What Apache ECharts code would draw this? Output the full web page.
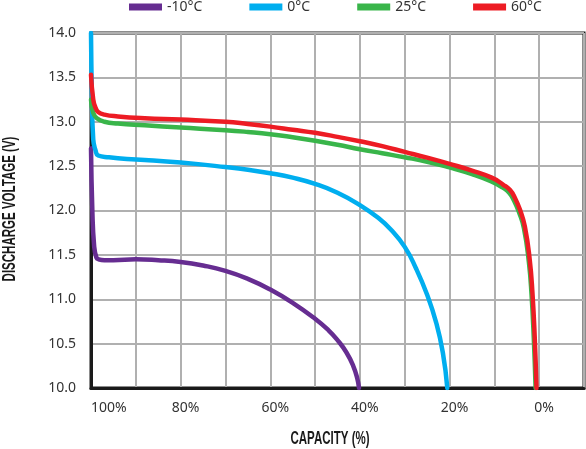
<!DOCTYPE html>
<html>
<head>
<meta charset="utf-8">
<script src="https://cdn.jsdelivr.net/npm/echarts@6/dist/echarts.min.js"></script>
<style>
html,body{margin:0;padding:0;background:#fff;}
#chart{width:586px;height:449px;}
</style>
</head>
<body>
<div id="chart"></div>
<script>
// Series names and axis titles
const seriesNames = ['-10°C', '0°C', '25°C', '60°C'];
const xTitle = 'CAPACITY (%)';
const yTitle = 'DISCHARGE VOLTAGE (V)';

// -10°C
const capM10 = [100, 99.7, 99.3, 98.8, 98.3, 97, 95, 90, 85, 80, 75, 70, 65, 60, 55, 50, 47, 45, 43, 41.5, 40.6, 40.2];
const voltM10 = [12.7, 12.0, 11.6, 11.47, 11.45, 11.44, 11.44, 11.45, 11.44, 11.42, 11.38, 11.32, 11.23, 11.11, 10.96, 10.78, 10.65, 10.54, 10.40, 10.25, 10.11, 10.0];

// 0°C
const cap0 = [100, 99.8, 99.5, 99.0, 98.4, 96, 92, 88, 80, 70, 65, 60, 55, 50, 45, 40, 36, 33, 30, 27.5, 25, 23, 21.5, 20.5];
const volt0 = [14.0, 13.3, 12.8, 12.68, 12.62, 12.60, 12.58, 12.57, 12.54, 12.49, 12.46, 12.42, 12.37, 12.30, 12.20, 12.06, 11.92, 11.78, 11.59, 11.35, 11.05, 10.74, 10.40, 10.0];

// 25°C
const cap25 = [100, 99.5, 98.7, 97, 94, 88, 80, 70, 65, 60, 55, 50, 45, 40, 35, 30, 25, 20, 15, 10.8, 8.2, 6.7, 5.6, 4.5, 3.4, 2.3, 1.7, 1.2, 0.8];
const volt25 = [13.25, 13.1, 13.04, 13.0, 12.98, 12.96, 12.935, 12.905, 12.885, 12.86, 12.825, 12.785, 12.74, 12.69, 12.645, 12.60, 12.55, 12.485, 12.41, 12.33, 12.26, 12.2, 12.11, 11.98, 11.8, 11.42, 11.05, 10.56, 10.0];

// 60°C
const cap60 = [100, 99.5, 99, 98.4, 97, 94, 88, 80, 70, 65, 60, 55, 50, 45, 40, 35, 30, 25, 20, 15, 10.6, 8, 6.5, 5.4, 4.3, 3.2, 2.1, 1.5, 1.0, 0.6];
const volt60 = [13.53, 13.25, 13.16, 13.11, 13.08, 13.06, 13.04, 13.025, 13.0, 12.975, 12.945, 12.91, 12.875, 12.83, 12.78, 12.725, 12.66, 12.595, 12.525, 12.45, 12.37, 12.29, 12.23, 12.14, 12.01, 11.82, 11.44, 11.07, 10.58, 10.0];

// Axis ticks
const xTickLabels = [0, 20, 40, 60, 80, 100];
const yMin = 10, yMax = 14, yStep = 0.5;
const xMin = -10, xMax = 100, xStep = 10;

const colors = ['#662d91', '#00aeef', '#39b54a', '#ed1c24'];

function pairs(xs, ys) { return xs.map((x, i) => [x, ys[i]]); }
const allData = [pairs(capM10, voltM10), pairs(cap0, volt0), pairs(cap25, volt25), pairs(cap60, volt60)];

const titleFont = '"Liberation Sans", Arial, sans-serif';

const chart = echarts.init(document.getElementById('chart'));
chart.setOption({
  backgroundColor: '#fff',
  animation: false,
  color: colors,
  legend: {
    data: seriesNames,
    left: 129, top: 0, padding: 0,
    itemWidth: 33, itemHeight: 7, itemGap: 47,
    icon: 'rect',
    textStyle: { fontFamily: 'Noto Sans', fontSize: 14, color: '#333' }
  },
  grid: {
    left: 91, right: 2, top: 33, bottom: 61,
    outerBoundsMode: 'none', containLabel: false,
    show: true, borderColor: '#1a1a1a', borderWidth: 3
  },
  graphic: [
    {
      type: 'text', x: 330, y: 439, scaleX: 0.64, silent: true,
      style: { text: xTitle, fontFamily: titleFont, fontWeight: 'bold', fontSize: 18, fill: '#1a1a1a',
               textAlign: 'center', textVerticalAlign: 'middle' }
    },
    {
      type: 'text', x: 10, y: 209, rotation: Math.PI / 2, scaleX: 0.64, silent: true,
      style: { text: yTitle, fontFamily: titleFont, fontWeight: 'bold', fontSize: 18, fill: '#1a1a1a',
               textAlign: 'center', textVerticalAlign: 'middle' }
    }
  ],
  xAxis: {
    type: 'value', inverse: true,
    min: xMin, max: xMax, interval: xStep,
    axisLine: { show: true, onZero: false, lineStyle: { color: '#1a1a1a', width: 3 } },
    axisTick: { show: false },
    splitLine: { show: true, lineStyle: { color: '#b0b0b0', width: 2 } },
    axisLabel: {
      margin: 13, alignMaxLabel: 'left',
      fontFamily: 'Noto Sans', fontSize: 14, color: '#333',
      formatter: function (v) {
        if (xTickLabels.indexOf(v) < 0) return '';
        return v === 100 ? '{m|' + v + '%}' : '{n|' + v + '%}';
      },
      rich: {
        m: { fontFamily: 'Noto Sans', fontSize: 14, color: '#333' },
        n: { fontFamily: 'Noto Sans', fontSize: 14, color: '#333', padding: [0, 0, 0, 10] }
      }
    }
  },
  yAxis: {
    type: 'value', min: yMin, max: yMax, interval: yStep,
    axisLine: { show: true, onZero: false, lineStyle: { color: '#1a1a1a', width: 3 } },
    axisTick: { show: false },
    splitLine: { show: true, lineStyle: { color: '#b0b0b0', width: 2 } },
    axisLabel: {
      margin: 15, fontFamily: 'Noto Sans', fontSize: 14, color: '#333',
      formatter: function (v) { return v.toFixed(1); }
    }
  },
  series: seriesNames.map((n, i) => ({
    name: n, type: 'line', data: allData[i],
    showSymbol: false, symbol: 'none',
    smooth: 0.5,
    lineStyle: { width: 4.5, color: colors[i], cap: 'round', join: 'round' },
    itemStyle: { color: colors[i] },
    clip: true
  }))
});
</script>
</body>
</html>
